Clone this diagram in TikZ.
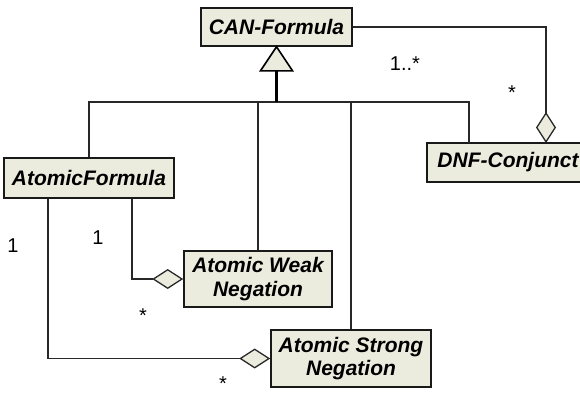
\documentclass[tikz,border=0pt]{standalone}
\usepackage{fontspec}
\setmainfont{Liberation Sans}
\usetikzlibrary{arrows.meta,calc}
\definecolor{boxfill}{RGB}{236,236,222}
\definecolor{boxline}{RGB}{25,25,25}
\definecolor{conline}{RGB}{40,40,40}
\tikzset{
  cls/.style={draw=boxline, line width=1.6bp, fill=boxfill, inner sep=0pt,
    font=\fontsize{21bp}{23.5bp}\selectfont\bfseries\itshape, align=center},
  con/.style={draw=conline, line width=1.1bp},
  gen/.style={draw=black, line width=2.2bp},
  agg/.style={con, -{Diamond[fill=boxfill, length=31bp, width=20bp, line width=1.3bp]}},
  mult/.style={font=\fontsize{20bp}{22bp}\selectfont, anchor=base, inner sep=0pt}
}
\begin{document}
\begin{tikzpicture}[x=1bp,y=-1bp]
\useasboundingbox (0,0) rectangle (580,395);
% classes
\node[cls, minimum width=151bp, minimum height=38bp] (can) at (276.5,27) {CAN-Formula};
\node[cls, minimum width=170bp, minimum height=40bp] (af) at (89,178) {AtomicFormula};
\node[cls, minimum width=162bp, minimum height=39bp] (dnf) at (508,162.5) {DNF-Conjunct};
\node[cls, minimum width=148bp, minimum height=56bp] (awn) at (258,279) {Atomic Weak\\Negation};
\node[cls, minimum width=160bp, minimum height=57bp] (asn) at (351,358.5) {Atomic Strong\\Negation};
% generalization
\coordinate (tribase) at ($(can.south)+(0,24)$);
\coordinate (junc) at (276.5,102);
\coordinate (dnfgen) at (469,143);
\coordinate (dnfagg) at (546,143);
\draw[con] (af.north) |- (junc) -| (dnfgen);
\draw[con] (awn.north) -- (awn.north |- junc);
\draw[con] (asn.north) -- (asn.north |- junc);
\draw[gen] (tribase) -- (junc);
\draw[draw=black, line width=1.6bp, fill=boxfill, line join=miter]
  (can.south) -- ($(tribase)+(16,0)$) -- ($(tribase)+(-16,0)$) -- cycle;
% aggregations
\draw[agg] (can.east) -| (dnfagg);
\draw[agg] ($(af.south)+(43,0)$) |- (awn.west);
\draw[agg] ($(af.south)+(-41,0)$) |- (asn.west);
% multiplicities
\node[mult] (m1) at (405,70) {1..*};
\node[mult] (m2) at (512,99.5) {*};
\node[mult] (m3) at (13,252) {1};
\node[mult] (m4) at (98,244) {1};
\node[mult] (m5) at (143,322) {*};
\node[mult] (m6) at (223,390) {*};
\end{tikzpicture}
\end{document}
